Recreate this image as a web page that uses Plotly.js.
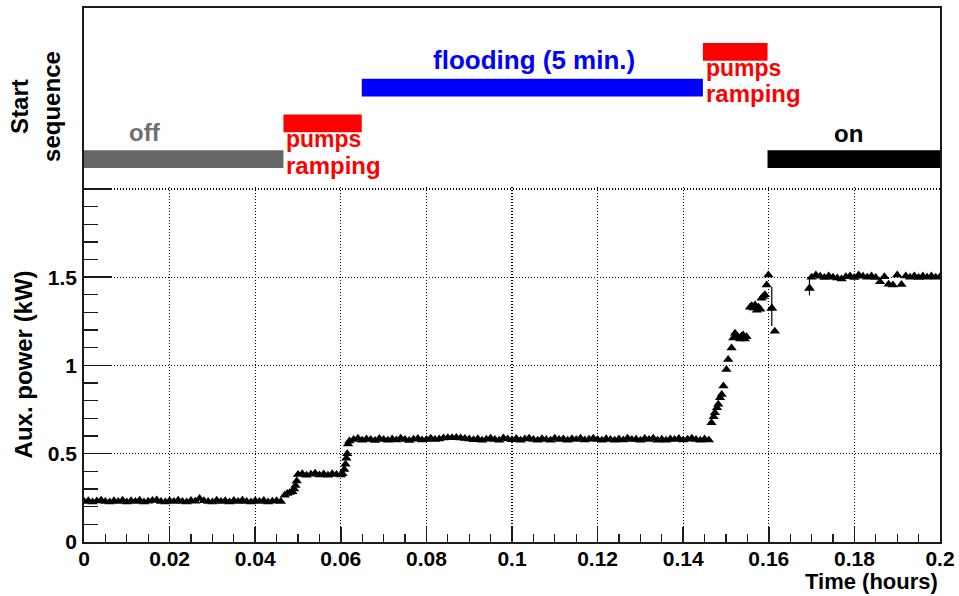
<!DOCTYPE html>
<html>
<head>
<meta charset="utf-8">
<script src="https://cdn.plot.ly/plotly-3.0.1.min.js"></script>
<style>
  html, body { margin: 0; padding: 0; background: #ffffff; }
  #chart { width: 959px; height: 596px; }
</style>
</head>
<body>
<div id="chart"></div>
<script>
// ---------- Data: auxiliary power vs time ----------
const timeHours = [
  0.000,0.001,0.002,0.003,0.004,0.005,0.006,0.007,0.008,0.009,
  0.010,0.011,0.012,0.013,0.014,0.015,0.016,0.017,0.018,0.019,
  0.020,0.021,0.022,0.023,0.024,0.025,0.026,0.027,0.028,0.029,
  0.030,0.031,0.032,0.033,0.034,0.035,0.036,0.037,0.038,0.039,
  0.040,0.041,0.042,0.043,0.044,0.045,0.046,
  0.0469,0.0475,0.0481,0.0487,0.0491,0.0494,0.0497,
  0.050,0.051,0.052,0.053,0.054,0.055,0.056,0.057,0.058,0.059,0.060,0.0604,
  0.0608,0.0611,0.0613,0.0615,0.0617,
  0.062,0.063,0.064,0.065,0.066,0.067,0.068,0.069,0.070,0.071,
  0.072,0.073,0.074,0.075,0.076,0.077,0.078,0.079,0.080,0.081,
  0.082,0.083,0.084,0.085,0.086,0.087,0.088,0.089,0.090,0.091,
  0.092,0.093,0.094,0.095,0.096,0.097,0.098,0.099,0.100,0.101,
  0.102,0.103,0.104,0.105,0.106,0.107,0.108,0.109,0.110,0.111,
  0.112,0.113,0.114,0.115,0.116,0.117,0.118,0.119,0.120,0.121,
  0.122,0.123,0.124,0.125,0.126,0.127,0.128,0.129,0.130,0.131,
  0.132,0.133,0.134,0.135,0.136,0.137,0.138,0.139,0.140,0.141,
  0.142,0.143,0.144,0.145,0.146,
  0.1466,0.1471,0.1474,0.1479,0.1482,0.1486,0.1490,0.1494,0.1501,0.1505,
  0.1513,0.1517,0.1521,0.1525,0.1529,0.1533,0.1536,0.1540,0.1544,0.1548,
  0.1556,0.1560,0.1564,0.1568,0.1572,0.1576,0.1580,0.1583,0.1587,0.1591,
  0.1595,0.1599,0.1607,0.1614,
  0.1695,
  0.170,0.171,0.172,0.173,0.174,0.175,0.176,0.177,0.178,0.179,
  0.180,0.181,0.182,0.183,0.184,0.185,0.186,0.187,0.188,0.189,
  0.190,0.191,0.192,0.193,0.194,0.195,0.196,0.197,0.198,0.199,
  0.200
];
const auxPowerKW = [
  0.230,0.234,0.226,0.232,0.237,0.230,0.227,0.234,0.229,0.236,
  0.227,0.233,0.229,0.236,0.226,0.231,0.235,0.238,0.229,0.227,
  0.233,0.229,0.236,0.230,0.226,0.235,0.231,0.246,0.234,0.229,
  0.227,0.236,0.230,0.233,0.226,0.235,0.229,0.237,0.230,0.227,
  0.233,0.229,0.235,0.226,0.231,0.234,0.229,
  0.265,0.275,0.280,0.285,0.300,0.320,0.345,
  0.382,0.387,0.378,0.384,0.389,0.380,0.385,0.378,0.387,0.382,0.380,0.386,
  0.410,0.440,0.475,0.500,0.555,
  0.572,0.581,0.587,0.577,0.584,0.580,0.575,0.586,0.580,0.576,
  0.584,0.578,0.587,0.580,0.575,0.582,0.586,0.578,0.580,0.587,
  0.580,0.583,0.589,0.591,0.590,0.592,0.589,0.586,0.583,0.579,
  0.585,0.577,0.582,0.587,0.580,0.576,0.589,0.583,0.579,0.586,
  0.577,0.583,0.587,0.580,0.576,0.585,0.581,0.577,0.587,0.580,
  0.584,0.576,0.585,0.580,0.588,0.578,0.582,0.587,0.580,0.576,
  0.585,0.580,0.576,0.584,0.578,0.587,0.580,0.582,0.576,0.586,
  0.580,0.587,0.577,0.582,0.576,0.584,0.580,0.586,0.578,0.582,
  0.587,0.580,0.576,0.584,0.578,
  0.676,0.710,0.732,0.760,0.780,0.817,0.836,0.883,0.977,1.033,
  1.099,1.155,1.183,1.170,1.160,1.150,1.165,1.172,1.150,1.162,
  1.330,1.338,1.325,1.342,1.312,1.330,1.318,1.380,1.390,1.400,
  1.456,1.512,1.324,1.193,
  1.437,
  1.500,1.512,1.505,1.498,1.507,1.500,1.495,1.490,1.502,1.507,
  1.498,1.512,1.505,1.500,1.507,1.498,1.474,1.502,1.460,1.455,
  1.512,1.458,1.507,1.500,1.506,1.498,1.507,1.500,1.506,1.499,
  1.502
];
// points that carry a visible error bar
const errTime  = [0.1607, 0.1695];
const errPower = [1.324, 1.437];
const errUp    = [0.120, 0.070];
const errDown  = [0.100, 0.040];

// ---------- Data: start sequence stages ----------
const stageNames = ['off', 'pumps ramping', 'flooding (5 min.)', 'pumps ramping', 'on'];
const stageStart = [0.0, 0.0466, 0.0649, 0.1446, 0.1597];
const stageEnd   = [0.0466, 0.0649, 0.1446, 0.1597, 0.2];
const stageLevel = [0, 1, 2, 3, 0];

// ---------- Tick labels ----------
const yTickVals = [0, 0.5, 1, 1.5, 2];
const yTickText = ['0', '0.5', '1', '1.5', ''];

// ---------- Styles ----------
const stageColors = ['#666666', '#ff0000', '#0000ff', '#ff0000', '#000000'];
const FONT = 'Liberation Sans, Arial, Helvetica, sans-serif';
const AX = '#1a1a1a';

if (timeHours.length !== auxPowerKW.length) console.error('length mismatch', timeHours.length, auxPowerKW.length);

const traces = [
  {
    type: 'bar', orientation: 'h',
    x: stageEnd.map((e, i) => e - stageStart[i]),
    base: stageStart,
    y: stageLevel,
    width: 0.5,
    marker: { color: stageColors, line: { width: 0 } },
    xaxis: 'x2', yaxis: 'y2',
    hoverinfo: 'skip', showlegend: false
  },
  {
    type: 'scatter', mode: 'markers',
    x: timeHours, y: auxPowerKW,
    marker: { symbol: 'triangle-up', size: 9, color: '#000000' },
    xaxis: 'x', yaxis: 'y', showlegend: false
  },
  {
    type: 'scatter', mode: 'markers',
    x: errTime, y: errPower,
    error_y: { type: 'data', symmetric: false, array: errUp, arrayminus: errDown,
               color: '#000000', thickness: 1.2, width: 0 },
    marker: { symbol: 'triangle-up', size: 9, color: '#000000' },
    xaxis: 'x', yaxis: 'y', showlegend: false
  }
];

const bold = (size, color) => ({ family: FONT, size: size, color: color || '#000000', weight: 'bold' });

function ann(text, x, y, xanchor, yshift, color, xshift, size) {
  return { text: text, x: x, y: y, xref: 'x2', yref: 'y2', showarrow: false,
           xanchor: xanchor, yanchor: 'middle', yshift: yshift, xshift: xshift || 0,
           borderpad: 0, font: bold(size || 24, color) };
}

const layout = {
  width: 959, height: 596,
  margin: { l: 84, r: 19, t: 8, b: 54, pad: 0 },
  paper_bgcolor: '#ffffff', plot_bgcolor: '#ffffff',
  showlegend: false,
  xaxis: {
    domain: [0, 1], range: [0, 0.2], anchor: 'y',
    tick0: 0, dtick: 0.02,
    ticks: 'inside', ticklen: 15, tickwidth: 1.5, tickcolor: AX,
    minor: { ticks: 'inside', dtick: 0.005, ticklen: 8, tickwidth: 1.3, tickcolor: AX, showgrid: false },
    showline: true, linecolor: AX, linewidth: 1.8,
    showgrid: true, gridcolor: '#000000', griddash: '1px,2px', gridwidth: 1.3,
    zeroline: false,
    ticklabelstandoff: -3,
    tickfont: bold(21)
  },
  yaxis: {
    domain: [0, 0.6652], range: [0, 2.012], anchor: 'x',
    tickmode: 'array', tickvals: yTickVals, ticktext: yTickText,
    ticks: 'inside', ticklen: 28, tickwidth: 1.5, tickcolor: AX,
    minor: { ticks: 'inside', dtick: 0.1, tick0: 0, ticklen: 14, tickwidth: 1.3, tickcolor: AX, showgrid: false },
    showline: true, mirror: true, linecolor: AX, linewidth: 1.8,
    showgrid: true, gridcolor: '#000000', griddash: '1px,2px', gridwidth: 1.3,
    zeroline: false,
    ticklabelstandoff: 1,
    tickfont: bold(21),
    title: { text: 'Aux. power (kW)', font: bold(24), standoff: 8 }
  },
  xaxis2: {
    domain: [0, 1], range: [0, 0.2], anchor: 'y2', side: 'top',
    showline: true, linecolor: AX, linewidth: 1.8,
    showticklabels: false, ticks: '', showgrid: false, zeroline: false
  },
  yaxis2: {
    domain: [0.6652, 1], range: [-0.776, 4.23], anchor: 'x2',
    showline: true, mirror: true, linecolor: AX, linewidth: 1.8,
    showticklabels: false, ticks: '', showgrid: false, zeroline: false
  },
  annotations: [
    ann(stageNames[0], 0.0142, stageLevel[0], 'center', 27, '#707070'),
    ann('pumps', stageStart[1], stageLevel[1], 'left', -16, '#ff0000', 2, 23),
    ann('ramping', stageStart[1], stageLevel[1], 'left', -42, '#ff0000', 2, 24),
    ann(stageNames[2], (stageStart[2] + stageEnd[2]) / 2, stageLevel[2], 'center', 28, '#0000ff', 2, 26),
    ann('pumps', stageStart[3], stageLevel[3], 'left', -16, '#ff0000', 2, 23),
    ann('ramping', stageStart[3], stageLevel[3], 'left', -42, '#ff0000', 2, 24),
    ann(stageNames[4], 0.1787, stageLevel[4], 'center', 26, '#000000'),
    { text: 'Start<br>sequence', xref: 'paper', yref: 'paper', x: -0.0565, y: 0.816,
      xanchor: 'center', yanchor: 'middle', textangle: -90, showarrow: false,
      font: bold(24) },
    { text: 'Time (hours)', xref: 'paper', yref: 'paper', x: 1, y: -0.074,
      xanchor: 'right', yanchor: 'middle', showarrow: false, font: bold(22) }
  ]
};

Plotly.newPlot('chart', traces, layout, { displayModeBar: false, staticPlot: true });
</script>
</body>
</html>
